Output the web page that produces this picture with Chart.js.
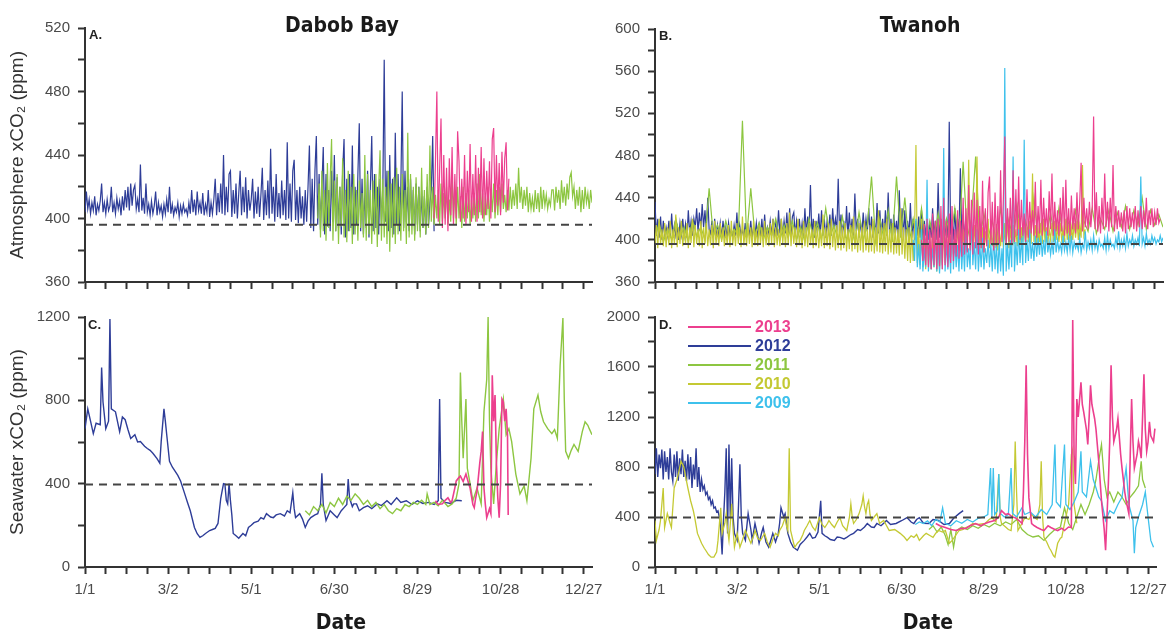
<!DOCTYPE html>
<html>
<head>
<meta charset="utf-8">
<script src="https://cdn.jsdelivr.net/npm/chart.js@4.4.1/dist/chart.umd.min.js"></script>
<style>
  html, body { margin: 0; padding: 0; background: #fff; overflow: hidden; }
  body { width: 1174px; height: 631px; position: relative; font-family: "Liberation Sans", Arial, sans-serif; }
  .panel { position: absolute; }
  .site, .xlab { position: absolute; font-family: "Liberation Sans Narrow", "DejaVu Sans Condensed", "Liberation Sans", sans-serif;
    font-stretch: condensed; font-weight: bold; font-size: 21px; color: #1a1a1a; transform: translateX(-50%); white-space: nowrap; }
  .tag { position: absolute; font-weight: bold; font-size: 13px; color: #222; }
</style>
</head>
<body>
<div class="panel" style="left:0;top:0"><canvas id="chartA" width="610" height="300"></canvas></div>
<div class="panel" style="left:600px;top:0"><canvas id="chartB" width="574" height="300"></canvas></div>
<div class="panel" style="left:0;top:300px"><canvas id="chartC" width="610" height="331"></canvas></div>
<div class="panel" style="left:600px;top:300px"><canvas id="chartD" width="574" height="331"></canvas></div>

<div class="site" style="left:342px;top:13px">Dabob Bay</div>
<div class="site" style="left:920px;top:13px">Twanoh</div>
<div class="tag" style="left:89px;top:27px">A.</div>
<div class="tag" style="left:659px;top:28px">B.</div>
<div class="tag" style="left:88px;top:317px">C.</div>
<div class="tag" style="left:659px;top:317px">D.</div>
<div class="xlab" style="left:341px;top:610px">Date</div>
<div class="xlab" style="left:928px;top:610px">Date</div>

<script>
// tick labels / legend
const dateTickDays = [0, 60, 120, 180, 240, 300, 360];
const dateTickLabels = ['1/1', '3/2', '5/1', '6/30', '8/29', '10/28', '12/27'];
const dabobAtmLabels = [360, 400, 440, 480, 520];
const twanohAtmLabels = [360, 400, 440, 480, 520, 560, 600];
const dabobSeaLabels = [0, 400, 800, 1200];
const twanohSeaLabels = [0, 400, 800, 1200, 1600, 2000];
const legendYears = ['2013', '2012', '2011', '2010', '2009'];
const yearColors = { '2013': '#ec3f8e', '2012': '#2e3d98', '2011': '#8dc641', '2010': '#c4c933', '2009': '#3ec1ec' };
const ambientLevel = 396;

// A. Dabob Bay atmosphere, one reading per day from the start day
const dabobAtm2012Start = 0;
const dabobAtm2012 = [
  404,417,406,412,403,410,405,414,402,409, 405,411,422,404,410,403,412,405,408,420,
  404,410,403,413,406,411,402,414,405,418, 407,420,405,422,408,418,421,406,412,404,
  434,405,413,403,422,404,409,402,411,403, 408,417,402,410,404,408,401,409,403,412,
  404,420,403,409,402,407,404,410,401,408, 403,409,404,406,402,410,403,418,404,412,
  402,417,405,410,403,416,402,409,404,418, 401,410,403,412,425,402,416,404,422,403,
  440,402,420,404,428,430,401,418,403,422, 400,416,430,402,420,404,426,400,418,405,
  412,425,400,417,403,420,401,415,432,399, 418,402,424,400,444,403,420,398,428,401,
  416,400,424,402,418,399,448,400,422,398, 430,437,399,418,397,420,400,414,396,418,
  398,420,446,394,425,392,430,452,396,428, 393,420,445,390,428,395,418,392,430,398,
  440,392,426,394,420,390,430,450,388,425, 392,428,394,446,390,420,396,428,460,392,
  425,390,418,394,430,388,420,452,392,428, 394,420,390,425,396,418,500,398,430,392,
  440,394,425,390,454,396,428,392,420,480, 394,430,398,420,392,425,396,418,390,422,
  396,420,392,418,394,414,390,420,396,410, 418,452,392];
const dabobAtm2011Start = 168;
const dabobAtm2011 = [
  400,422,388,430,392,418,386,435,394,425, 450,386,424,392,428,384,420,395,438,388,
  418,385,430,392,420,384,428,390,418,386, 424,394,416,388,440,386,428,390,418,384,
  424,390,428,382,420,443,386,425,388,420, 384,430,379,422,388,426,384,432,390,420,
  386,428,392,418,384,454,388,428,390,420, 386,426,392,420,388,432,394,418,390,428,
  394,446,398,420,396,415,400,418,396,422, 398,416,400,420,396,412,398,425,400,418,
  396,420,400,414,394,420,398,416,400,418, 396,412,400,416,398,422,400,428,402,416,
  398,414,402,420,398,418,404,422,400,418, 402,420,404,422,406,415,404,418,405,420,
  406,418,408,422,406,432,410,420,406,418, 408,420,404,416,406,413,404,418,406,416,
  404,420,406,418,408,415,406,412,408,418, 418,405,420,410,418,406,424,410,420,408,
  422,412,426,429,414,420,406,418,408,420, 404,418,406,420,410,416,406,418,410];
const dabobAtm2013Start = 252;
const dabobAtm2013 = [
  400,436,480,398,430,463,394,440,396,432, 392,438,402,445,396,428,400,455,436,398,
  425,400,440,396,430,404,447,398,428,402, 440,398,432,404,445,400,438,402,430,406,
  436,400,450,457,404,440,408,435,402,442, 410,438,448,405,425];

// B. Twanoh atmosphere, one reading per day (2011 every third day)
const twanohAtm2012Start = 0;
const twanohAtm2012 = [
  436,404,420,402,422,400,418,405,412,404, 418,403,425,402,414,404,412,400,416,405,
  420,404,415,402,428,406,418,404,420,412, 430,408,426,410,434,412,428,408,440,410,
  406,418,402,420,400,414,404,416,402,418, 404,412,402,416,404,410,402,414,404,426,
  402,414,404,410,402,416,403,412,404,418, 402,412,404,416,402,414,404,420,402,424,
  404,412,406,418,404,420,402,416,404,428, 406,420,404,418,406,426,402,430,404,422,
  426,404,418,406,420,404,416,402,430,406, 422,408,452,404,420,402,418,406,425,404,
  428,404,420,402,418,408,424,404,430,410, 420,408,458,406,424,404,418,402,432,404,
  426,406,420,404,444,408,420,402,418,404, 426,406,420,408,430,404,422,402,418,404,
  435,406,428,404,420,402,428,404,445,406, 420,402,424,406,418,402,447,404,430,402,
  428,400,418,404,435,402,420,400,418,404, 422,402,428,400,418,404,420,400,416,402,
  430,404,418,400,454,402,420,400,416,404, 420,402,512,404,418,400,430,402,420,404,
  468,402,424,400,420];
const twanohAtm2010Start = 0;
const twanohAtm2010 = [
  396,414,392,420,396,410,394,416,393,412, 395,418,392,410,396,424,393,412,396,418,
  394,410,396,416,392,412,397,420,393,414, 396,410,394,418,392,412,396,416,394,410,
  395,414,392,418,396,410,394,416,398,412, 394,408,396,414,393,418,395,410,394,416,
  396,412,393,422,395,410,394,416,396,412, 393,418,395,410,394,414,396,412,393,418,
  395,410,394,416,396,420,393,412,395,410, 394,420,396,412,393,416,395,426,394,414,
  396,412,393,420,395,410,392,418,394,412, 393,416,395,410,392,418,394,412,392,410,
  394,424,392,412,394,416,391,420,393,412, 390,414,392,418,390,412,392,416,389,410,
  391,414,389,422,391,410,388,416,390,412, 388,418,390,410,388,414,389,420,387,412,
  389,428,388,412,387,416,389,420,386,410, 388,416,386,412,387,410,385,430,386,412,
  382,410,380,412,378,408,380,406,490,378, 410,376,420,374,406,372,410,376,404,372,
  405,374,415,370,408,372,400,376,410,378, 412,380,404,384,410,386,404,388,412,390,
  420,386,410,388,414,390,476,392,408,390, 414,392,479,390,410,392,412,388,408,394,
  420,392,408,394,412,392,415,390,410,394, 412,392,416,396,418,392,410,394,414,396,
  410,394,420,396,412,398,416,396,412,398, 418,396,463,398,414,396,410,398,416,396,
  420,398,412,396,410,400,416,398,418,400, 412,398,416,400,410,398,420,400,414,398,
  412,400,416,402,418,400,414,402,471,404, 410];
const twanohAtm2011Start = 0;
const twanohAtm2011 = [
  402,416,398,410,400,420,402,412,398,418, 404,412,400,449,404,414,400,418,402,410,
  404,513,402,449,404,416,400,412,404,420, 400,414,402,418,400,412,398,420,402,416,
  400,430,402,414,398,422,400,412,398,426, 400,414,460,398,420,400,428,398,460,402,
  440,396,420,398,430,396,418,400,425,398, 420,400,430,398,474,402,420,479,400,425,
  402,418,398,430,402,420,398,432,400,418, 402,440,400,420,404,425,402,430,404,420,
  406,428,404,418,408,430,406,420,410,428, 408,426,412,432,410,428,414,440,410,428,
  414,424,412];
const twanohAtm2009Start = 186;
const twanohAtm2009 = [
  400,380,420,374,396,372,410,370,392,374, 457,370,398,372,392,374,410,370,396,368,
  404,372,487,370,398,372,395,368,420,372, 400,374,395,370,404,372,398,370,410,374,
  392,372,425,376,398,372,410,370,396,374, 402,372,392,378,400,374,396,370,406,372,
  396,368,400,370,392,366,563,370,396,372, 400,374,479,370,398,376,410,378,402,376,
  495,378,400,380,410,382,398,380,404,384, 402,386,404,384,400,386,408,388,398,386,
  398,386,410,388,400,390,396,388,404,390, 398,388,402,390,404,388,398,392,396,390,
  402,388,396,392,408,390,398,392,400,390, 404,392,398,390,400,394,396,392,402,390,
  404,392,400,394,396,392,402,394,408,392, 400,394,402,392,406,394,400,396,404,394,
  400,396,402,394,460,396,402,394,406,396, 400,396,404,398,402,396,400,398,404,398,
  402];
const twanohAtm2013Start = 192;
const twanohAtm2013 = [
  400,380,415,376,420,374,410,372,425,376, 418,372,420,375,432,372,440,376,418,374,
  425,378,432,380,410,384,428,382,418,384, 440,386,430,388,452,390,438,386,445,392,
  438,386,432,392,456,388,430,394,445,460, 396,436,390,445,394,432,396,466,398,440,
  498,396,430,398,440,396,466,398,448,404, 460,400,438,404,425,398,448,402,436,406,
  428,404,455,402,432,406,457,404,440,408, 430,404,446,410,463,404,436,408,428,404,
  440,408,450,404,457,406,430,404,442,410, 430,406,445,410,436,473,408,440,412,430,
  410,436,412,430,517,410,445,408,432,406, 440,410,463,412,436,408,440,412,471,408,
  432,410,428,412,426,408,428,406,432,410, 430,412,426,410,432,408,428,412,432,410,
  428,412,440,410,428,414,430,412,426,414, 430,416,420];

// C. Dabob Bay seawater [day, ppm]
const dabobSea2012 = [[0,664],[2,759],[4,700],[6,640],[8,690],[11,683],[12,958],[13,792],[15,664],[17,700],
  [18,1190],[19,759],[22,745],[25,650],[27,720],[29,707],[31,660],[33,617],[36,635],[38,600],[40,602],
  [43,580],[45,569],[47,560],[49,546],[52,520],[54,498],[55,602],[57,759],[58,700],[59,635],[61,507],
  [63,480],[65,460],[67,440],[69,413],[72,351],[74,310],[76,270],[79,190],[81,160],[83,142],[85,150],
  [87,161],[90,175],[92,180],[94,185],[96,209],[98,330],[99,365],[100,400],[101,398],[102,320],[103,303],
  [104,400],[105,318],[106,250],[107,161],[109,150],[111,138],[114,161],[116,150],[118,190],[120,200],
  [122,213],[125,220],[127,237],[129,230],[131,256],[134,240],[136,237],[138,250],[141,256],[144,245],
  [146,270],[148,260],[150,356],[151,280],[152,237],[155,256],[157,230],[159,190],[161,220],[163,237],
  [166,250],[168,256],[170,300],[171,450],[172,300],[174,223],[177,270],[180,250],[182,237],[185,270],
  [187,285],[189,300],[190,422],[191,330],[193,290],[194,303],[196,303],[198,270],[201,285],[204,294],
  [207,280],[211,303],[214,295],[218,318],[221,300],[225,332],[228,310],[232,318],[236,300],[240,318],
  [244,305],[248,310],[252,300],[255,318],[256,806],[257,330],[260,310],[264,305],[268,320],[272,318]];
const dabobSea2011 = [[159,270],[162,250],[165,290],[168,270],[171,300],[174,260],[177,310],[180,290],
  [183,330],[186,300],[189,340],[192,320],[195,351],[198,330],[201,300],[204,320],[207,290],[210,310],
  [213,280],[216,300],[219,270],[222,256],[225,280],[228,270],[231,300],[234,290],[237,310],[240,300],
  [243,320],[246,300],[247,351],[249,300],[252,310],[255,294],[258,320],[262,290],[265,303],[268,330],
  [270,400],[271,934],[272,700],[273,522],[275,806],[276,474],[278,400],[280,318],[283,379],[286,303],
  [288,745],[290,900],[291,1200],[292,700],[293,474],[295,303],[297,500],[299,664],[302,806],[304,635],
  [306,664],[308,602],[311,446],[314,351],[317,389],[319,318],[322,522],[324,759],[327,825],[329,745],
  [331,697],[334,664],[337,640],[339,660],[341,617],[343,968],[345,1195],[346,800],[347,555],[349,522],
  [351,560],[353,588],[356,555],[359,650],[361,697],[363,680],[364,664],[366,635]];
const dabobSea2013 = [[253,318],[255,300],[258,303],[260,320],[262,332],[264,310],[265,318],[267,380],
  [268,413],[270,430],[271,436],[273,410],[275,446],[277,400],[278,379],[280,300],[281,285],[282,330],
  [283,365],[285,500],[286,555],[287,650],[288,379],[289,300],[290,237],[292,280],[293,256],[294,920],
  [295,700],[296,825],[297,500],[298,332],[299,237],[300,400],[301,806],[302,792],[303,700],[304,759],
  [305,635],[305.5,250]];

// D. Twanoh seawater [day, ppm]
const twanohSea2012 = [[0,743],[1,949],[2,720],[3,900],[4,791],[5,940],[6,700],[7,925],[8,760],[9,880],
  [10,700],[11,949],[12,760],[13,688],[14,900],[15,720],[16,925],[17,690],[18,870],[19,743],[20,940],
  [21,720],[22,850],[23,688],[24,901],[25,700],[26,880],[27,632],[28,820],[29,700],[30,949],[31,640],
  [32,800],[33,600],[34,700],[35,620],[36,650],[37,580],[38,600],[39,540],[40,560],[41,500],[42,530],
  [43,470],[44,480],[45,440],[46,450],[47,400],[48,300],[49,100],[50,372],[51,600],[52,949],[53,269],
  [54,980],[55,395],[56,870],[57,400],[58,269],[60,213],[61,500],[62,822],[63,400],[64,269],[66,213],
  [68,427],[70,300],[71,213],[73,348],[75,250],[76,190],[78,280],[79,316],[81,200],[83,158],[85,230],
  [86,269],[88,200],[90,269],[91,350],[92,474],[94,400],[95,427],[97,269],[99,200],[101,158],[104,134],
  [106,180],[109,213],[111,240],[113,269],[115,230],[117,237],[119,280],[121,530],[122,269],[124,250],
  [126,237],[128,220],[131,213],[133,240],[135,237],[138,225],[140,237],[143,260],[145,269],[148,300],
  [150,292],[153,320],[155,348],[158,320],[160,316],[162,348],[165,330],[167,350],[169,372],[172,340],
  [176,348],[180,370],[184,395],[187,360],[189,348],[191,380],[193,395],[196,350],[200,348],[203,380],
  [207,372],[211,340],[215,348],[218,390],[222,427],[225,451]];
const twanohSea2010 = [[0,372],[1,213],[3,300],[4,372],[6,632],[7,316],[9,427],[11,350],[12,316],[14,632],
  [16,700],[17,743],[19,846],[21,800],[22,743],[24,632],[26,530],[28,450],[29,395],[31,269],[34,190],
  [36,150],[37,134],[39,100],[41,79],[43,79],[45,120],[46,213],[48,474],[49,269],[51,350],[52,427],
  [53,300],[54,213],[55,350],[56,506],[57,300],[58,158],[60,269],[62,158],[64,220],[66,292],[68,240],
  [70,190],[72,250],[73,292],[75,230],[77,213],[79,250],[80,269],[82,200],[84,158],[86,220],[88,269],
  [90,250],[91,292],[93,330],[95,395],[96,330],[97,292],[98,949],[99,292],[101,200],[102,158],[104,190],
  [106,213],[108,260],[109,292],[111,330],[113,372],[115,320],[117,292],[119,360],[120,395],[122,340],
  [124,316],[126,350],[127,372],[129,340],[131,316],[133,360],[135,395],[137,330],[140,292],[142,400],
  [143,506],[144,400],[145,348],[147,380],[149,427],[151,500],[152,569],[153,480],[154,427],[155,500],
  [156,530],[157,420],[158,372],[160,400],[162,427],[164,348],[167,372],[171,292],[175,300],[179,269],
  [182,240],[184,213],[187,250],[189,237],[191,260],[193,213],[196,250],[198,269],[201,250],[203,237],
  [205,270],[207,292],[210,280],[212,292],[214,220],[215,190],[217,213],[220,260],[222,292],[225,300],
  [227,316],[230,330],[232,348],[236,340],[241,348],[244,380],[246,395],[249,360],[251,743],[252,400],
  [253,348],[256,320],[258,300],[260,292],[262,500],[263,1004],[264,600],[265,292],[268,350],[270,395],
  [273,380],[275,420],[277,395],[279,380],[281,500],[282,846],[283,400],[284,237],[286,200],[288,150],
  [289,134],[291,90],[292,79],[294,190],[296,230],[297,237],[299,348],[302,500],[304,900],[305,941],
  [306,500],[308,350]];
const twanohSea2011 = [[200,300],[203,330],[206,280],[209,320],[212,250],[214,180],[216,300],[218,158],
  [220,290],[224,320],[228,300],[232,330],[236,310],[240,340],[244,320],[248,350],[252,330],[256,360],
  [260,340],[264,380],[268,300],[272,260],[276,240],[280,250],[284,213],[288,260],[292,300],[296,320],
  [299,474],[302,350],[305,300],[308,400],[311,500],[314,420],[317,500],[320,600],[322,700],[324,850],
  [326,980],[328,700],[330,560],[332,600],[335,520],[338,600],[341,560],[344,500],[347,560],[350,600],
  [353,650],[355,846],[356,700],[358,632]];
const twanohSea2009 = [[190,340],[193,360],[196,348],[199,370],[202,330],[205,380],[208,360],[210,474],
  [212,350],[216,330],[220,370],[224,350],[228,380],[232,360],[236,390],[240,400],[243,420],[245,791],
  [246,400],[247,791],[248,420],[250,450],[251,743],[252,430],[255,400],[258,420],[260,791],[261,430],
  [264,400],[268,474],[270,420],[274,440],[278,400],[282,460],[286,420],[290,500],[292,980],[293,520],
  [296,480],[299,980],[300,500],[303,460],[306,520],[309,600],[311,925],[312,600],[315,560],[318,846],
  [320,700],[322,632],[324,560],[326,530],[329,372],[332,450],[335,427],[338,500],[341,560],[344,791],
  [346,500],[349,372],[350,111],[351,316],[353,400],[356,500],[358,600],[360,400],[362,213],[364,158]];
const twanohSea2013 = [[205,348],[208,330],[212,316],[216,300],[220,292],[224,310],[227,308],[230,330],
  [234,348],[238,330],[241,348],[244,360],[248,372],[251,400],[253,451],[256,420],[258,427],[261,400],
  [263,395],[266,370],[268,348],[269,600],[270,1004],[271,1613],[272,900],[273,553],[275,348],[277,330],
  [279,316],[282,300],[284,292],[287,330],[289,316],[292,300],[294,292],[297,310],[299,292],[302,320],
  [304,316],[305,1976],[306,900],[307,664],[308,1344],[309,1200],[311,1478],[312,1300],[313,1241],
  [315,1100],[316,980],[317,1200],[318,1454],[319,1300],[321,1186],[322,1100],[324,846],[326,530],
  [328,300],[329,134],[330,400],[331,664],[332,1000],[333,1613],[334,1200],[335,1004],[337,1100],
  [338,1186],[340,900],[341,791],[343,600],[344,530],[346,427],[347,900],[348,1344],[349,1000],
  [350,791],[352,900],[353,1004],[354,950],[355,870],[356,1200],[357,1542],[358,1100],[359,925],
  [360,1000],[361,1162],[362,1050],[364,1004],[365,1107]];

const AXIS = '#333';
const TICK_TEXT = '#4a4a4a';
Chart.defaults.font.family = '"Liberation Sans", Arial, sans-serif';

function stepSeries(start, step, values) {
    return values.map((v, i) => ({ x: start + i * step, y: v }));
}
function pairSeries(pairs) {
    return pairs.map(([x, y]) => ({ x, y }));
}
function yearLine(year, data, width) {
    return { label: year, data, borderColor: yearColors[year], borderWidth: width || 1.3,
        pointRadius: 0, tension: 0, fill: false };
}
function ambientLine() {
    return { label: 'ambient', data: [{ x: 0, y: ambientLevel }, { x: 366, y: ambientLevel }],
        borderColor: '#444', borderWidth: 2, borderDash: [8, 6], pointRadius: 0 };
}

const yearLegend = {
    id: 'yearLegend',
    afterDatasetsDraw(chart) {
        const { ctx, chartArea } = chart;
        ctx.save();
        ctx.font = 'bold 16px "Liberation Sans", Arial, sans-serif';
        ctx.textBaseline = 'middle';
        legendYears.forEach((year, i) => {
            const y = chartArea.top + 10 + i * 19;
            ctx.strokeStyle = yearColors[year];
            ctx.lineWidth = 2;
            ctx.beginPath();
            ctx.moveTo(chartArea.left + 33, y);
            ctx.lineTo(chartArea.left + 96, y);
            ctx.stroke();
            ctx.fillStyle = yearColors[year];
            ctx.fillText(year, chartArea.left + 100, y + 1);
        });
        ctx.restore();
    }
};

function makePanel(id, cfg) {
    new Chart(document.getElementById(id), {
        type: 'line',
        data: { datasets: cfg.datasets },
        options: {
            responsive: false,
            animation: false,
            events: [],
            layout: { padding: cfg.padding },
            plugins: { legend: { display: false }, tooltip: { enabled: false } },
            scales: {
                x: {
                    type: 'linear', min: 0, max: 366,
                    afterFit: s => { s.height = cfg.xHeight; },
                    border: { display: true, color: AXIS, width: 2 },
                    grid: { drawOnChartArea: false, drawTicks: true, tickLength: 7, tickColor: AXIS, tickWidth: 2 },
                    ticks: {
                        stepSize: 15, autoSkip: false, maxRotation: 0, includeBounds: false,
                        padding: 7, color: TICK_TEXT, font: { size: 15 },
                        callback: v => cfg.dates ? (dateTickLabels[dateTickDays.indexOf(v)] || '') : ''
                    }
                },
                y: {
                    min: cfg.yMin, max: cfg.yMax,
                    afterFit: s => { s.width = cfg.yWidth; },
                    border: { display: true, color: AXIS, width: 2 },
                    grid: { drawOnChartArea: false, drawTicks: true, tickLength: 7, tickColor: AXIS, tickWidth: 2 },
                    ticks: {
                        stepSize: cfg.yStep, autoSkip: false, padding: 8, color: TICK_TEXT, font: { size: 15 },
                        callback: v => cfg.yLabels.includes(v) ? String(v) : ''
                    },
                    title: cfg.yTitle ? { display: true, text: cfg.yTitle, color: '#333',
                        font: { size: 19 }, padding: { top: 6, bottom: 0 } } : { display: false }
                }
            }
        },
        plugins: cfg.plugins || []
    });
}

makePanel('chartA', {
    padding: { top: 28, right: 18, left: 0, bottom: 0 }, yWidth: 85, xHeight: 18, dates: false,
    yMin: 360, yMax: 520, yStep: 20, yLabels: dabobAtmLabels, yTitle: 'Atmosphere xCO\u2082 (ppm)',
    datasets: [
        ambientLine(),
        yearLine('2013', stepSeries(dabobAtm2013Start, 1, dabobAtm2013), 1.2),
        yearLine('2011', stepSeries(dabobAtm2011Start, 1, dabobAtm2011), 1.2),
        yearLine('2012', stepSeries(dabobAtm2012Start, 1, dabobAtm2012), 1.2)
    ]
});

makePanel('chartB', {
    padding: { top: 29, right: 11, left: 0, bottom: 0 }, yWidth: 55, xHeight: 18, dates: false,
    yMin: 360, yMax: 600, yStep: 20, yLabels: twanohAtmLabels,
    datasets: [
        ambientLine(),
        yearLine('2013', stepSeries(twanohAtm2013Start, 1, twanohAtm2013), 1.2),
        yearLine('2009', stepSeries(twanohAtm2009Start, 1, twanohAtm2009), 1.2),
        yearLine('2010', stepSeries(twanohAtm2010Start, 1, twanohAtm2010), 1.2),
        yearLine('2011', stepSeries(twanohAtm2011Start, 3, twanohAtm2011), 1.2),
        yearLine('2012', stepSeries(twanohAtm2012Start, 1, twanohAtm2012), 1.2)
    ]
});

makePanel('chartC', {
    padding: { top: 14, right: 18, left: 0, bottom: 0 }, yWidth: 85, xHeight: 64, dates: true,
    yMin: 0, yMax: 1200, yStep: 200, yLabels: dabobSeaLabels, yTitle: 'Seawater xCO\u2082 (ppm)',
    datasets: [
        ambientLine(),
        yearLine('2013', pairSeries(dabobSea2013), 1.6),
        yearLine('2011', pairSeries(dabobSea2011), 1.4),
        yearLine('2012', pairSeries(dabobSea2012), 1.4)
    ]
});

makePanel('chartD', {
    padding: { top: 14, right: 11, left: 0, bottom: 0 }, yWidth: 55, xHeight: 64, dates: true,
    yMin: 0, yMax: 2000, yStep: 200, yLabels: twanohSeaLabels,
    plugins: [yearLegend],
    datasets: [
        ambientLine(),
        yearLine('2013', pairSeries(twanohSea2013), 1.6),
        yearLine('2009', pairSeries(twanohSea2009), 1.3),
        yearLine('2010', pairSeries(twanohSea2010), 1.3),
        yearLine('2011', pairSeries(twanohSea2011), 1.3),
        yearLine('2012', pairSeries(twanohSea2012), 1.4)
    ]
});
</script>
</body>
</html>
